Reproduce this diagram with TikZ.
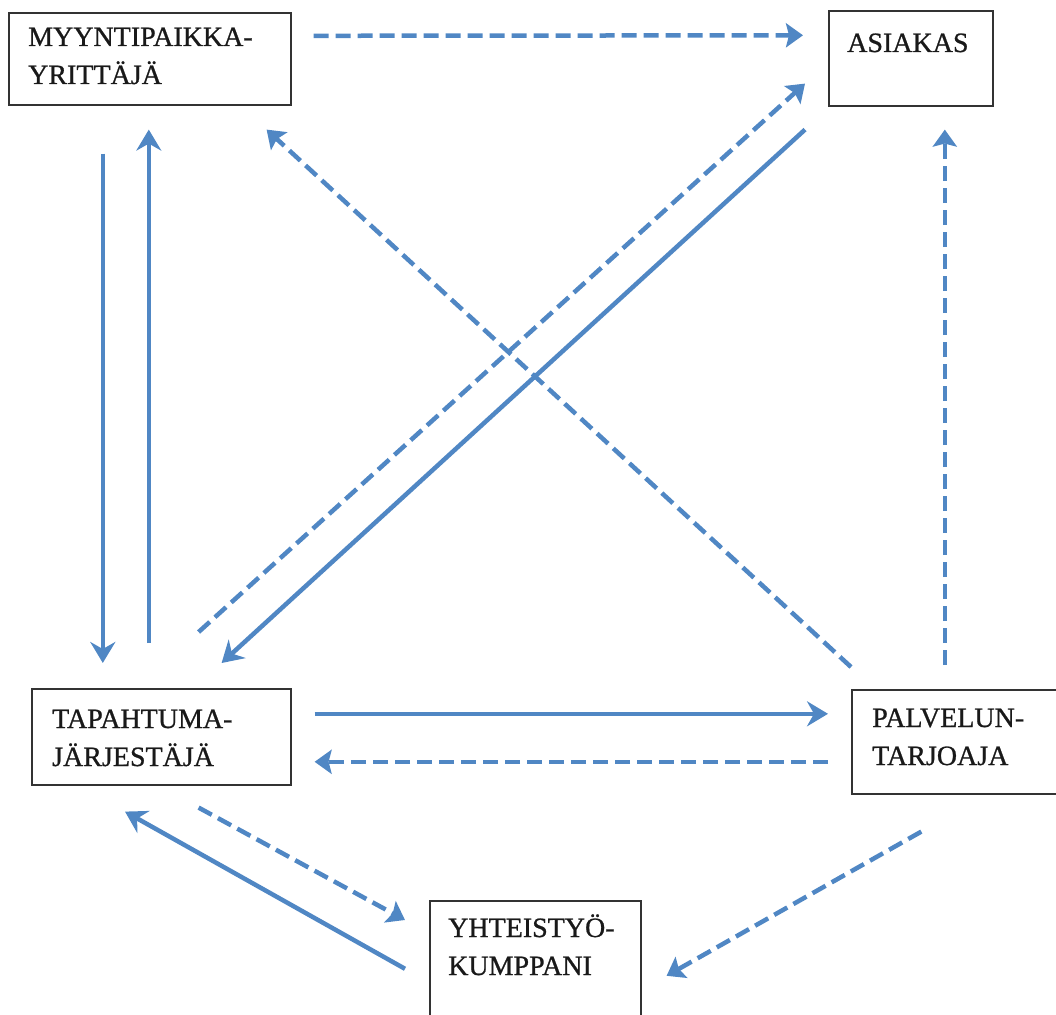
\documentclass[tikz,border=0pt]{standalone}
\usepackage{fontspec}
\setmainfont{Liberation Serif}
\newfontfamily\boxfont{Liberation Serif}[FakeBold=0.8]
\usetikzlibrary{arrows.meta}
\definecolor{linkblue}{RGB}{80,135,196}

\begin{document}
\begin{tikzpicture}[x=1pt,y=-1pt,
    box/.style={draw=black!80, line width=1.6pt, inner sep=0pt, anchor=north west},
    lbl/.style={anchor=base west, inner sep=0pt, align=left, text=black!90, font=\boxfont\fontsize{28}{38}\selectfont},
    link/.style={linkblue, line width=4.5pt, -{Stealth[length=21pt,width=25pt,inset=7pt]}},
    dlink/.style={linkblue, line width=4.5pt, dash pattern=on 15pt off 7pt, -{Stealth[length=17pt,width=24pt,inset=3pt]}}]
    \useasboundingbox (0,0) rectangle (1056,1014);
    \clip (0,0) rectangle (1056,1014);

    % Define boxes for the actors
    \node[box, minimum width=282pt, minimum height=92pt] (myyn) at (8,12) {};
    \node[box, minimum width=164pt, minimum height=95pt] (asiakas) at (828,10) {};
    \node[box, minimum width=259pt, minimum height=96pt] (tap) at (31,688) {};
    \node[box, minimum width=219pt, minimum height=104pt] (palv) at (851,689) {};
    \node[box, minimum width=211pt, minimum height=130pt] (yht) at (429,900) {};

    % Texts in the boxes (base = last line)
    \node[lbl] (myyntxt) at ([shift={(20,72)}]myyn.north west) {MYYNTIPAIKKA-\\YRITTÄJÄ};
    \node[lbl] (asiakastxt) at ([shift={(19,42)}]asiakas.north west) {ASIAKAS};
    \node[lbl] (taptxt) at ([shift={(21,78)}]tap.north west) {TAPAHTUMA-\\JÄRJESTÄJÄ};
    \node[lbl] (palvtxt) at ([shift={(21,76)}]palv.north west) {PALVELUN-\\TARJOAJA};
    \node[lbl] (yhttxt) at ([shift={(19,75)}]yht.north west) {YHTEISTYÖ-\\KUMPPANI};

    % Draw edges
    \draw[dlink] ([shift={(22,-23)}]myyn.east) -- ([shift={(-25,-23)}]asiakas.west);
    \draw[link] ([shift={(-47,48)}]myyn.south) -- ([shift={(-58.5,-25)}]tap.north);
    \draw[link] ([shift={(-12.5,-45)}]tap.north) -- ([shift={(-1,24)}]myyn.south);
    \draw[dlink] ([shift={(0,-22)}]palv.north west) -- ([shift={(-25,24)}]myyn.south east);
    \draw[dlink] ([shift={(-93,-56)}]tap.north east) -- ([shift={(-23,-23)}]asiakas.south west);
    \draw[link] ([shift={(-23,23)}]asiakas.south west) -- ([shift={(-70,-25)}]tap.north east);
    \draw[dlink] ([shift={(-16.5,-24)}]palv.north) -- ([shift={(34,23)}]asiakas.south);
    \draw[link] ([shift={(23,-23)}]tap.east) -- ([shift={(-23,-28)}]palv.west);
    \draw[dlink] ([shift={(-23,20)}]palv.west) -- ([shift={(23,25)}]tap.east);
    \draw[dlink] ([shift={(-93,22)}]tap.south east) -- ([shift={(-24,20)}]yht.north west);
    \draw[link] ([shift={(-24,3)}]yht.west) -- ([shift={(94,26)}]tap.south west);
    \draw[dlink] ([shift={(-40,37)}]palv.south) -- ([shift={(25,10)}]yht.east);

\end{tikzpicture}
\end{document}
